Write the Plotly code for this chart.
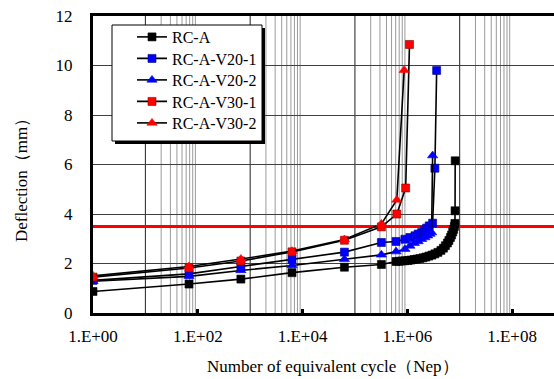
import plotly.graph_objects as go

# ---------------- data ----------------
rca_n = [1, 68, 665, 6300, 6.3e4, 3.2e5, 6.1e5, 6.9e5, 7.9e5, 9.0e5, 1.03e6, 1.17e6, 1.34e6,
         1.52e6, 1.74e6, 1.99e6, 2.26e6, 2.58e6, 2.95e6, 3.36e6, 3.84e6, 4.38e6, 4.89e6,
         5.34e6, 5.83e6, 6.22e6, 6.65e6, 7.0e6, 7.35e6, 7.65e6, 7.93e6, 8.1e6, 8.15e6, 8.2e6]
rca_d = [0.87, 1.17, 1.37, 1.63, 1.85, 1.96, 2.08, 2.09, 2.10, 2.11, 2.12, 2.14, 2.16,
         2.18, 2.20, 2.23, 2.26, 2.30, 2.34, 2.39, 2.45, 2.53, 2.62,
         2.72, 2.83, 2.93, 3.05, 3.15, 3.27, 3.38, 3.50, 3.62, 4.13, 6.15]

v201_n = [1, 68, 665, 6300, 6.3e4, 3.2e5, 6.1e5, 9.0e5, 1.12e6, 1.40e6, 1.61e6, 1.88e6,
          2.10e6, 2.34e6, 2.62e6, 3.04e6, 3.36e6, 3.63e6]
v201_d = [1.32, 1.58, 1.88, 2.17, 2.46, 2.85, 2.89, 2.98, 3.05, 3.12, 3.19, 3.25,
          3.33, 3.43, 3.52, 3.63, 5.85, 9.80]

v202_n = [1, 68, 665, 6300, 6.3e4, 3.2e5, 6.1e5, 9.0e5, 1.12e6, 1.36e6, 1.61e6, 1.88e6,
          2.17e6, 2.44e6, 2.70e6, 2.91e6, 3.04e6]
v202_d = [1.28, 1.48, 1.72, 1.92, 2.17, 2.35, 2.48, 2.58, 2.71, 2.82, 2.89, 2.98,
          3.05, 3.12, 3.19, 3.25, 6.36]

v301_n = [1, 68, 665, 6300, 6.3e4, 3.2e5, 6.3e5, 9.3e5, 1.1e6]
v301_d = [1.45, 1.82, 2.10, 2.47, 2.94, 3.48, 4.00, 5.05, 10.85]

v302_n = [1, 68, 665, 6300, 6.3e4, 3.2e5, 6.3e5, 8.7e5]
v302_d = [1.50, 1.88, 2.18, 2.50, 2.97, 3.60, 4.57, 9.81]

limit_d = 3.5

x_tick_vals = [1, 1e2, 1e4, 1e6, 1e8]
x_tick_text = ["1.E+00", "1.E+02", "1.E+04", "1.E+06", "1.E+08"]
y_tick_vals = [0, 2, 4, 6, 8, 10, 12]

series_names = ["RC-A", "RC-A-V20-1", "RC-A-V20-2", "RC-A-V30-1", "RC-A-V30-2"]
series_x = [rca_n, v201_n, v202_n, v301_n, v302_n]
series_y = [rca_d, v201_d, v202_d, v301_d, v302_d]
series_sym = ["square", "square", "triangle-up", "square", "triangle-up"]
series_col = ["#000000", "#0000FF", "#0000FF", "#FF0000", "#FF0000"]
series_edge = ["#000000", "#000080", "#0000FF", "#800000", "#FF0000"]
series_size = [8, 8, 9, 8, 9]

# ---------------- layout geometry ----------------
W, H = 554, 379
L, R, T, B = 93, 0, 16, 66
PW, PH = W - L - R, H - T - B


def px(xp):
    return (xp - L) / PW


def py(yp):
    return (H - B - yp) / PH


FONT = "Liberation Serif"

fig = go.Figure()

legend_rows = [37, 58.5, 80, 101.5, 123]
legend_ids = ["legend", "legend2", "legend3", "legend4", "legend5"]

for i, name in enumerate(series_names):
    fig.add_trace(go.Scatter(
        x=series_x[i], y=series_y[i], name=name, mode="lines+markers",
        line=dict(color="black", width=1.6),
        marker=dict(symbol=series_sym[i], color=series_col[i], size=series_size[i],
                    line=dict(color=series_edge[i], width=0.6)),
        legend=legend_ids[i],
    ))

minor_vals = [m * 10 ** k for k in (1, 3, 5, 7) for m in range(2, 10)]
dark_vals = [1e1, 1e3, 1e5, 1e7]

shapes = []
for v in minor_vals:
    shapes.append(dict(type="line", xref="x", yref="paper", x0=v, x1=v, y0=0, y1=1,
                       line=dict(color="#9a9a9a", width=1), layer="below"))
for v in dark_vals:
    shapes.append(dict(type="line", xref="x", yref="paper", x0=v, x1=v, y0=0, y1=1,
                       line=dict(color="#202020", width=1), layer="below"))
# limit line
shapes.append(dict(type="line", xref="paper", yref="y", x0=0, x1=1, y0=limit_d, y1=limit_d,
                   line=dict(color="#FF0000", width=3), layer="below"))
# legend shadow and box
shapes.append(dict(type="rect", xref="paper", yref="paper",
                   x0=px(115), x1=px(265), y0=py(144), y1=py(28),
                   fillcolor="black", line=dict(width=0), layer="above"))
shapes.append(dict(type="rect", xref="paper", yref="paper",
                   x0=px(112), x1=px(262), y0=py(141), y1=py(25),
                   fillcolor="white", line=dict(color="black", width=1), layer="above"))

legend_layouts = {}
for i, lid in enumerate(legend_ids):
    legend_layouts[lid] = dict(
        x=px(132), y=py(legend_rows[i]), xanchor="left", yanchor="middle",
        bgcolor="rgba(0,0,0,0)", borderwidth=0,
        font=dict(family=FONT, size=16, color="black"), itemwidth=30,
    )

fig.update_layout(
    width=W, height=H,
    margin=dict(l=L, r=R, t=T, b=B, pad=0),
    paper_bgcolor="white", plot_bgcolor="white",
    font=dict(family=FONT, size=17, color="black"),
    showlegend=True,
    shapes=shapes,
    annotations=[
        dict(text="Number of equivalent cycle（Nep）", xref="paper", yref="paper",
             x=px(333), y=py(366), showarrow=False, xanchor="center", yanchor="middle",
             font=dict(family=FONT, size=17)),
        dict(text="Deflection（mm）", xref="paper", yref="paper", textangle=-90,
             x=px(21), y=py(176), showarrow=False, xanchor="center", yanchor="middle",
             font=dict(family=FONT, size=17)),
    ],
    **legend_layouts,
)

fig.update_xaxes(
    type="log", range=[0, 8.8],
    tickmode="array", tickvals=x_tick_vals, ticktext=x_tick_text,
    showgrid=False, zeroline=False,
    showline=True, linewidth=3, linecolor="black", mirror=True,
    ticks="inside", ticklen=4, tickwidth=3, tickcolor="black",
    ticklabelstandoff=6,
)
fig.update_yaxes(
    range=[0, 12], tickmode="array", tickvals=y_tick_vals,
    showgrid=True, gridcolor="#404040", gridwidth=1, zeroline=False,
    showline=True, linewidth=3, linecolor="black", mirror=False,
    ticks="", ticklabelstandoff=14,
)

fig.write_html("out.html")
